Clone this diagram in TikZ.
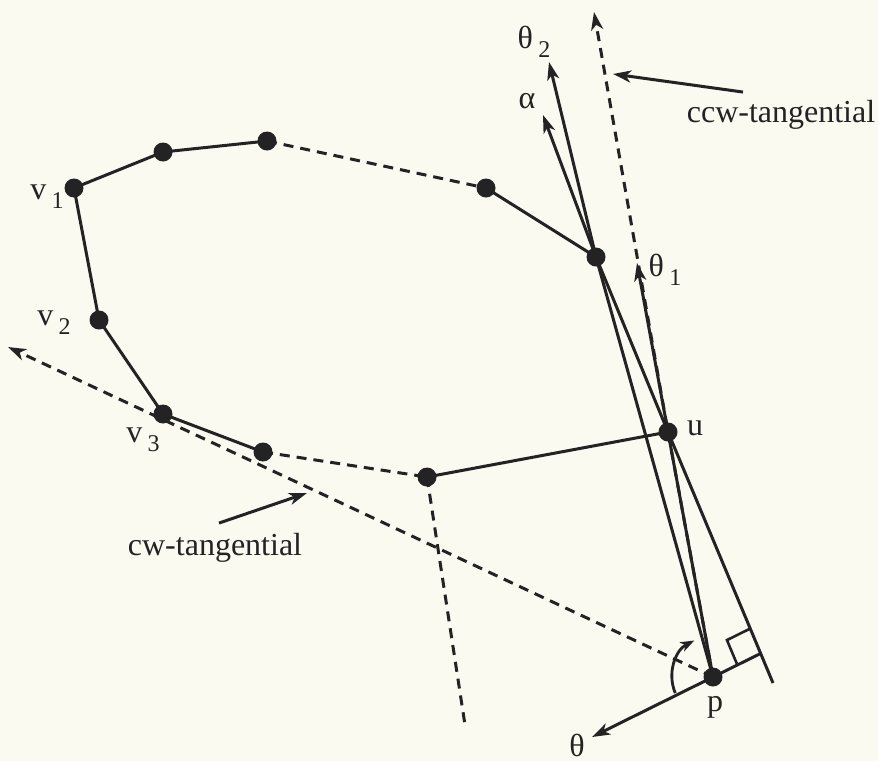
\documentclass[tikz,border=0pt]{standalone}
\usepackage{fontspec}
\setmainfont{Liberation Serif}
\usepackage{tikz}
\usetikzlibrary{arrows.meta,positioning,calc}
\definecolor{paper}{RGB}{250,250,241}
\definecolor{ink}{RGB}{35,35,35}
\newcommand{\low}[1]{\,\raisebox{-0.6ex}{\fontsize{12}{12}\selectfont #1}}

\begin{document}
\begin{tikzpicture}[
        x=0.5pt, y=-0.5pt,
        % Styles
        vertex/.style={
            circle,
            fill=ink,
            inner sep=0pt,
            minimum size=9.5pt
        },
        edge/.style={
            draw=ink,
            line width=1.5pt
        },
        dashedge/.style={
            draw=ink,
            line width=1.5pt,
            dash pattern=on 5pt off 3.5pt
        },
        arrow/.style={
            -{Stealth[length=9pt,width=6pt,inset=2.5pt]}
        },
        lbl/.style={
            font=\fontsize{16}{19}\selectfont,
            text=ink,
            inner sep=1pt
        }
    ]

    % Paper
    \fill[paper] (0,0) rectangle (878,761);
    \useasboundingbox (0,0) rectangle (878,761);

    % Polygon vertices
    \node[vertex] (v1) at (74,188) {};
    \node[vertex] (a1) at (163,152) {};
    \node[vertex] (a2) at (267,141) {};
    \node[vertex] (a3) at (486,188) {};
    \node[vertex] (w) at (596,257) {};
    \node[vertex] (u) at (668,432) {};
    \node[vertex] (b1) at (427,477) {};
    \node[vertex] (b2) at (263,452) {};
    \node[vertex] (v3) at (163,414) {};
    \node[vertex] (v2) at (99,320) {};

    % Query point
    \node[vertex] (p) at (713,677) {};

    % Free ends of the rays
    \coordinate (t2tip) at (549,62);
    \coordinate (atip) at (543,115);
    \coordinate (t1tip) at (637,263);
    \coordinate (ccwtip) at (594,12);
    \coordinate (cwtip) at (8,347);
    \coordinate (lend) at (773,683);
    \coordinate (ttip) at (592,737);
    \coordinate (dend) at (465,725);
    \coordinate (rc) at (intersection of ttip--p and lend--u);

    % Polygon chain
    \draw[edge] (a3.center) -- (w.center);
    \draw[edge] (v1.center) -- (a1.center) -- (a2.center);
    \draw[dashedge] (a2.center) -- (a3.center);
    \draw[edge] (v1.center) -- (v2.center) -- (v3.center) -- (b2.center);
    \draw[dashedge] (b2.center) -- (b1.center);
    \draw[edge] (b1.center) -- (u.center);
    \draw[dashedge] (b1.center) -- (dend);

    % Tangentials
    \draw[dashedge, arrow] (p.center) -- (u.center) -- (ccwtip);
    \draw[dashedge, arrow] (p.center) -- (cwtip);

    % Rays from p and u
    \draw[edge, arrow] (p.center) -- (w.center) -- (t2tip);
    \draw[edge, arrow] (lend) -- (u.center) -- (w.center) -- (atip);
    \draw[edge] (p.center) -- (u.center);
    \draw[edge, arrow] (u.center) -- (t1tip);
    \draw[edge, arrow] (rc) -- (p.center) -- (ttip);

    % Right angle
    \coordinate (m1) at ($(rc)!13pt!(p)$);
    \coordinate (m2) at ($(rc)!13.5pt!(u)$);
    \draw[edge, line width=1.3pt] (m1) -- ($(m1)+(m2)-(rc)$) -- (m2);

    % Angle at p
    \draw[edge, line width=1.4pt, -{Stealth[length=7pt,width=5pt,inset=2pt]}]
        (p.center) ++(157:41) arc[start angle=157, end angle=243, radius=41];

    % Vertex labels
    \node[lbl] (v1lab) at (47,197) {v\low{1}};
    \node[lbl] (v2lab) at (54,323) {v\low{2}};
    \node[lbl] (v3lab) at (143,440) {v\low{3}};
    \node[lbl] (ulab) at (695,428) {u};
    \node[lbl] (plab) at (715,707) {p};

    % Direction labels
    \node[lbl] (t2lab) at (534,42) {θ\low{2}};
    \node[lbl] (alab) at (527,101) {α};
    \node[lbl] (t1lab) at (665,270) {θ\low{1}};
    \node[lbl] (tlab) at (577,745) {θ};

    % Tangential annotations
    \node[lbl] (ccw) at (781,115) {ccw-tangential};
    \draw[edge, arrow] ([xshift=-19pt,yshift=3pt]ccw.north) -- (613,74);
    \node[lbl] (cw) at (215,548) {cw-tangential};
    \draw[edge, arrow] ([xshift=2pt,yshift=4pt]cw.north) -- (307,493);

\end{tikzpicture}
\end{document}
